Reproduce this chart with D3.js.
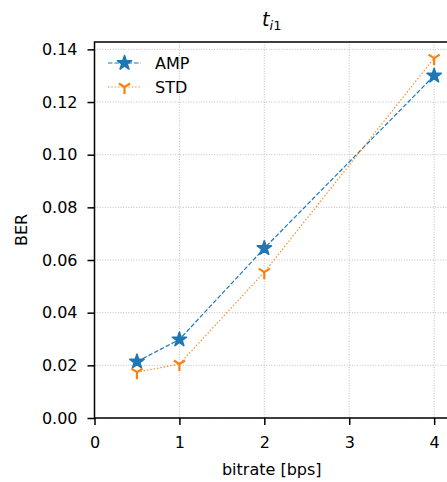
<!DOCTYPE html>
<html>
<head>
<meta charset="utf-8">
<script src="https://cdn.jsdelivr.net/npm/d3@7"></script>
<style>
  body { margin: 0; background: #fff; }
  text { font-family: "DejaVu Sans", sans-serif; fill: #000; }
</style>
</head>
<body>
<script>
'use strict';

// data
const bitrates = [0.5, 1, 2, 4];
const ampBer = [0.0214, 0.0298, 0.0645, 0.1300];
const stdBer = [0.0174, 0.0205, 0.0554, 0.1367];
const xTicks = [0, 1, 2, 3, 4];
const yTicks = [0, 0.02, 0.04, 0.06, 0.08, 0.10, 0.12, 0.14];

(function() {

  const W = 447, H = 482;
  const mLeft = 94.5, mRight = 449, mTop = 42, mBottom = 418;
  const fs = '16px';

  let svg = d3.select('body').append('svg')
    .attr('width', W)
    .attr('height', H);

  let x = d3.scaleLinear().domain([0, 4.175]).range([mLeft, mRight]);
  let y = d3.scaleLinear().domain([0, 0.1428]).range([mBottom, mTop]);

  // grid
  svg.append('g').selectAll('line')
    .data(xTicks)
    .enter().append('line')
    .attr('x1', d => x(d)).attr('x2', d => x(d))
    .attr('y1', mTop).attr('y2', mBottom)
    .attr('stroke', '#b0b0b0').attr('stroke-width', 0.8)
    .attr('stroke-dasharray', '1,1.6');

  svg.append('g').selectAll('line')
    .data(yTicks)
    .enter().append('line')
    .attr('x1', mLeft).attr('x2', mRight)
    .attr('y1', d => y(d)).attr('y2', d => y(d))
    .attr('stroke', '#b0b0b0').attr('stroke-width', 0.8)
    .attr('stroke-dasharray', '1,1.6');

  // axes
  let xAxis = svg.append('g')
    .attr('transform', 'translate(0,' + mBottom + ')')
    .call(d3.axisBottom(x).tickValues(xTicks).tickFormat(d3.format('d')).tickSize(7).tickPadding(12));

  let yAxis = svg.append('g')
    .attr('transform', 'translate(' + mLeft + ',0)')
    .call(d3.axisLeft(y).tickValues(yTicks).tickFormat(d3.format('.2f')).tickSize(7).tickPadding(10));

  [xAxis, yAxis].forEach(a => {
    a.select('.domain').remove();
    a.selectAll('.tick line').attr('stroke', '#000').attr('stroke-width', 1.5);
    a.selectAll('.tick text')
      .style('font-family', '"DejaVu Sans", sans-serif')
      .style('font-size', fs)
      .attr('fill', '#000');
  });

  // spines
  svg.append('rect')
    .attr('x', mLeft).attr('y', mTop)
    .attr('width', mRight - mLeft).attr('height', mBottom - mTop)
    .attr('fill', 'none')
    .attr('stroke', '#000')
    .attr('stroke-width', 1.5);

  // marker shapes, like matplotlib '*' and '1'
  function starPath(r) {
    let pts = [];
    for (let i = 0; i < 10; i++) {
      let rr = i % 2 === 0 ? r : r * 0.381966;
      let a = -Math.PI / 2 + i * Math.PI / 5;
      pts.push([rr * Math.cos(a), rr * Math.sin(a)]);
    }
    return 'M' + pts.map(p => p[0].toFixed(2) + ',' + p[1].toFixed(2)).join('L') + 'Z';
  }
  function triDownPath(s) {
    return 'M0,0L0,' + s + 'M0,0L' + (0.8 * s) + ',' + (-0.5 * s) + 'M0,0L' + (-0.8 * s) + ',' + (-0.5 * s);
  }

  let series = [
    { name: 'AMP', values: ampBer, color: '#1f77b4', dash: '4.5,2', marker: 'star' },
    { name: 'STD', values: stdBer, color: '#ff7f0e', dash: '1.3,2.1', marker: 'tri' }
  ];

  let line = d3.line()
    .x((d, i) => x(bitrates[i]))
    .y(d => y(d));

  function drawMarker(g, s) {
    if (s.marker === 'star') {
      g.append('path').attr('d', starPath(7.5))
        .attr('fill', s.color).attr('stroke', s.color).attr('stroke-width', 1.6)
        .attr('stroke-linejoin', 'round');
    } else {
      g.append('path').attr('d', triDownPath(7))
        .attr('fill', 'none').attr('stroke', s.color).attr('stroke-width', 2.2);
    }
  }

  series.forEach(s => {
    svg.append('path')
      .datum(s.values)
      .attr('d', line)
      .attr('fill', 'none')
      .attr('stroke', s.color)
      .attr('stroke-width', 1.2)
      .attr('stroke-dasharray', s.dash);

    s.values.forEach((v, i) => {
      let g = svg.append('g').attr('transform', 'translate(' + x(bitrates[i]) + ',' + y(v) + ')');
      drawMarker(g, s);
    });
  });

  // legend
  series.forEach((s, i) => {
    let ly = 63 + i * 24;
    svg.append('line')
      .attr('x1', 108).attr('x2', 141)
      .attr('y1', ly).attr('y2', ly)
      .attr('stroke', s.color).attr('stroke-width', 1.2)
      .attr('stroke-dasharray', s.dash);
    let g = svg.append('g').attr('transform', 'translate(124.5,' + ly + ')');
    drawMarker(g, s);
    svg.append('text')
      .attr('x', 155).attr('y', ly)
      .attr('dy', '0.36em')
      .style('font-size', fs)
      .text(s.name);
  });

  // labels
  svg.append('text')
    .attr('x', (mLeft + mRight) / 2).attr('y', 475)
    .attr('text-anchor', 'middle')
    .style('font-size', fs)
    .text('bitrate [bps]');

  svg.append('text')
    .attr('transform', 'translate(27,' + ((mTop + mBottom) / 2) + ')rotate(-90)')
    .attr('text-anchor', 'middle')
    .style('font-size', fs)
    .text('BER');

  let title = svg.append('text')
    .attr('x', (mLeft + mRight) / 2).attr('y', 26)
    .attr('text-anchor', 'middle')
    .style('font-size', '19px');
  title.append('tspan').style('font-style', 'italic').text('t');
  title.append('tspan').attr('dy', 4).style('font-size', '13px').style('font-style', 'italic').text('i');
  title.append('tspan').style('font-size', '13px').text('1');

})();
</script>
</body>
</html>
